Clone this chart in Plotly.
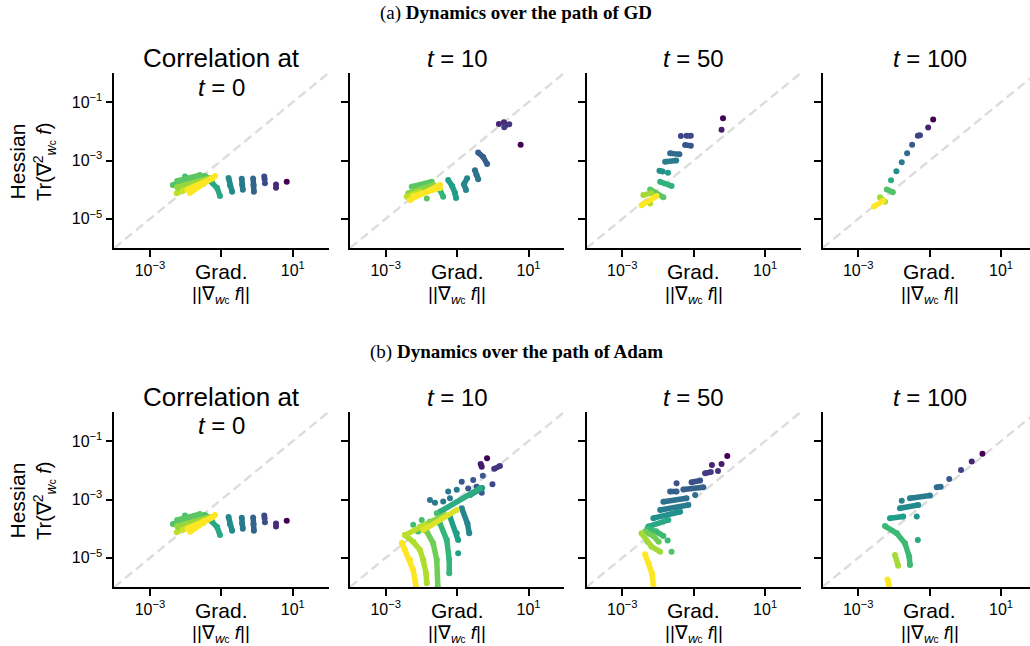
import plotly.graph_objects as go
from plotly.colors import sample_colorscale

# ---------------- data (log10 values) ----------------
# each entry: (colour value 0..1 on viridis, log10 grad list, log10 hessian list, kind)
# kind 'l' = dense streak of points, 'm' = separate points
t0_points = [
    (0.00, [0.83], [-3.73], 'm'),
    (0.12, [0.53, 0.53], [-3.82, -3.93], 'm'),
    (0.22, [0.20, 0.21], [-3.55, -3.64], 'm'),
    (0.24, [0.22], [-3.78], 'm'),
    (0.32, [-0.11, -0.10, -0.09], [-3.62, -3.85, -4.07], 'l'),
    (0.40, [-0.43, -0.42, -0.40], [-3.63, -3.82, -4.00], 'l'),
    (0.48, [-0.80, -0.76, -0.70], [-3.60, -3.85, -4.07], 'l'),
    (0.60, [-1.43, -1.26, -1.12, -1.04], [-3.57, -3.74, -3.94, -4.22], 'l'),
    (0.72, [-2.36, -1.46], [-3.84, -3.53], 'l'),
    (0.74, [-2.24, -1.60], [-3.70, -3.50], 'l'),
    (0.70, [-2.02], [-3.55], 'm'),
    (0.78, [-2.20, -1.50], [-4.00, -3.80], 'l'),
    (0.84, [-2.24, -1.32], [-3.91, -3.60], 'l'),
    (0.90, [-2.25], [-4.12], 'm'),
    (0.92, [-2.10, -1.45], [-4.05, -3.70], 'l'),
    (1.00, [-1.88, -1.18], [-4.11, -3.53], 'l'),
    (1.00, [-1.95, -1.25], [-4.00, -3.62], 'l'),
]

gd_t10_points = [
    (0.00, [0.78], [-2.46], 'm'),
    (0.10, [0.17], [-1.75], 'm'),
    (0.12, [0.31, 0.37], [-1.69, -1.78], 'l'),
    (0.16, [0.46], [-1.76], 'm'),
    (0.18, [0.32], [-1.86], 'm'),
    (0.30, [-0.41, -0.27, -0.16], [-2.73, -2.88, -3.12], 'l'),
    (0.38, [-0.50, -0.46, -0.41], [-3.33, -3.49, -3.64], 'l'),
    (0.46, [-0.72, -0.81, -0.75], [-3.61, -3.81, -4.01], 'l'),
    (0.56, [-1.25, -1.14, -1.06, -1.03], [-3.67, -3.87, -4.11, -4.29], 'l'),
    (0.66, [-1.48, -1.39], [-4.01, -4.24], 'l'),
    (0.74, [-2.27, -1.71], [-3.90, -3.73], 'l'),
    (0.74, [-1.85], [-4.30], 'm'),
    (0.82, [-2.37, -1.66], [-4.12, -3.84], 'l'),
    (0.90, [-2.41, -2.04], [-4.24, -4.07], 'l'),
    (1.00, [-2.32, -1.48], [-4.35, -3.84], 'l'),
    (1.00, [-2.22, -1.48], [-4.22, -3.94], 'l'),
]

gd_t50_points = [
    (0.00, [-0.18], [-1.55], 'm'),
    (0.08, [-0.22], [-1.95], 'm'),
    (0.20, [-1.36], [-2.16], 'm'),
    (0.22, [-1.20, -1.08], [-2.15, -2.15], 'l'),
    (0.27, [-1.24, -1.08], [-2.47, -2.49], 'l'),
    (0.35, [-1.66, -1.40], [-2.75, -2.79], 'l'),
    (0.42, [-1.80, -1.49], [-3.04, -3.00], 'l'),
    (0.50, [-1.96, -1.87], [-3.35, -3.38], 'l'),
    (0.55, [-1.72], [-3.42], 'm'),
    (0.64, [-1.94, -1.62], [-3.73, -3.87], 'l'),
    (0.74, [-2.22, -1.85], [-3.99, -4.26], 'l'),
    (0.86, [-2.41, -2.18], [-4.18, -4.12], 'l'),
    (0.88, [-2.22], [-4.47], 'm'),
    (1.00, [-2.46, -2.04], [-4.53, -4.22], 'l'),
]

gd_t100_points = [
    (0.00, [-0.90], [-1.59], 'm'),
    (0.10, [-1.04], [-1.87], 'm'),
    (0.20, [-1.33, -1.27], [-2.15, -2.13], 'l'),
    (0.28, [-1.49], [-2.46], 'm'),
    (0.34, [-1.63], [-2.75], 'm'),
    (0.42, [-1.78], [-3.06], 'm'),
    (0.50, [-1.93], [-3.37], 'm'),
    (0.62, [-2.08], [-3.68], 'm'),
    (0.72, [-2.20, -2.03], [-3.99, -4.09], 'l'),
    (0.86, [-2.39, -2.25], [-4.26, -4.41], 'l'),
    (1.00, [-2.56, -2.30], [-4.58, -4.38], 'l'),
]

adam_t10_points = [
    (0.00, [-0.16], [-1.59], 'm'),
    (0.07, [-0.34, -0.31], [-1.78, -1.88], 'l'),
    (0.15, [0.04, 0.20], [-1.95, -1.85], 'l'),
    (0.22, [-0.01], [-2.48], 'm'),
    (0.28, [-0.55, -0.28, -0.45, -0.31, -0.87, -0.69], [-2.33, -2.19, -2.56, -2.77, -2.39, -2.62], 'm'),
    (0.40, [-1.76, -1.62, -1.39, -1.20, -1.25, -1.01], [-3.02, -3.11, -3.07, -2.96, -2.73, -2.67], 'm'),
    (0.46, [-0.87, -0.71, -0.66], [-3.30, -3.82, -4.16], 'l'),
    (0.50, [-0.64, -0.30], [-2.85, -2.61], 'l'),
    (0.56, [-1.20, -1.01, -0.97], [-3.59, -4.16, -4.39], 'l'),
    (0.56, [-0.97], [-4.84], 'm'),
    (0.62, [-1.48, -0.36], [-3.42, -2.62], 'l'),
    (0.66, [-1.48, -1.29, -1.22, -1.22], [-3.82, -4.39, -5.07, -5.53], 'l'),
    (0.70, [-2.23, -1.99, -2.09, -1.76, -1.57], [-3.87, -3.70, -4.10, -3.76, -3.47], 'm'),
    (0.78, [-1.85, -1.67, -1.57, -1.54], [-4.10, -4.50, -5.07, -5.99], 'l'),
    (0.82, [-2.04, -1.34], [-3.94, -3.53], 'l'),
    (0.88, [-2.46, -2.23, -2.04, -1.95, -1.87, -1.85], [-4.22, -4.45, -4.73, -5.07, -5.53, -5.87], 'l'),
    (0.90, [-2.46, -1.90], [-4.22, -3.87], 'l'),
    (0.95, [-1.95, -1.01], [-4.05, -3.36], 'l'),
    (1.00, [-2.55, -2.46, -2.32, -2.23, -2.18, -2.15], [-4.48, -4.73, -5.07, -5.42, -5.76, -5.99], 'l'),
]

adam_t50_points = [
    (0.00, [-0.06], [-1.51], 'm'),
    (0.08, [-0.22], [-1.78], 'm'),
    (0.10, [-0.49], [-1.82], 'm'),
    (0.15, [-0.32], [-2.02], 'm'),
    (0.18, [-0.68, -0.52], [-2.10, -2.06], 'l'),
    (0.25, [-1.48], [-2.44], 'm'),
    (0.25, [-1.06, -0.82], [-2.41, -2.35], 'l'),
    (0.30, [-1.66, -1.48], [-2.73, -2.73], 'l'),
    (0.30, [-1.29, -0.73], [-2.66, -2.58], 'l'),
    (0.36, [-1.85, -1.20], [-3.08, -2.96], 'l'),
    (0.36, [-0.96], [-2.85], 'm'),
    (0.42, [-1.94, -1.15], [-3.36, -3.19], 'l'),
    (0.50, [-2.13, -1.38], [-3.64, -3.42], 'l'),
    (0.60, [-2.27, -1.71], [-3.93, -3.70], 'l'),
    (0.68, [-2.30, -2.05, -1.85], [-4.00, -4.10, -4.25], 'l'),
    (0.68, [-1.73], [-4.41], 'm'),
    (0.72, [-1.62], [-4.79], 'm'),
    (0.78, [-2.36, -2.13, -1.98], [-4.10, -4.25, -4.45], 'l'),
    (0.86, [-2.46, -2.30, -2.18, -1.94], [-4.16, -4.45, -4.62, -4.79], 'l'),
    (1.00, [-2.36, -2.26, -2.17, -2.13], [-4.88, -5.19, -5.53, -5.93], 'l'),
]

adam_t100_points = [
    (0.00, [0.48], [-1.43], 'm'),
    (0.10, [0.18], [-1.70], 'm'),
    (0.20, [-0.12], [-1.99], 'm'),
    (0.28, [-0.45], [-2.30], 'm'),
    (0.35, [-0.80, -0.69], [-2.58, -2.56], 'l'),
    (0.42, [-1.55, -0.99], [-2.96, -2.86], 'l'),
    (0.45, [-1.78], [-3.04], 'm'),
    (0.48, [-1.83, -1.32], [-3.30, -3.19], 'l'),
    (0.52, [-1.36], [-3.58], 'm'),
    (0.56, [-2.11, -1.74], [-3.64, -3.58], 'l'),
    (0.60, [-1.33], [-4.39], 'm'),
    (0.68, [-2.25, -1.92, -1.69, -1.57, -1.55], [-3.91, -4.16, -4.50, -4.96, -5.25], 'l'),
    (0.86, [-1.97, -1.88], [-4.90, -5.27], 'l'),
    (1.00, [-2.18, -2.14], [-5.74, -5.93], 'l'),
]

panel_titles = ["Correlation at", "<i>t</i> = 10", "<i>t</i> = 50", "<i>t</i> = 100"]
row_titles = ["(a) <b>Dynamics over the path of GD</b>",
              "(b) <b>Dynamics over the path of Adam</b>"]
x_tickvals = [1e-3, 1e1]
x_ticktext = ["10<sup>−3</sup>", "10<sup>1</sup>"]
x_minor_tickvals = [1e-1]
y_tickvals = [1e-5, 1e-3, 1e-1]
y_ticktext = ["10<sup>−5</sup>", "10<sup>−3</sup>", "10<sup>−1</sup>"]
diag_log = ([-4, 2], [-6, 0])

panels = [[t0_points, gd_t10_points, gd_t50_points, gd_t100_points],
          [t0_points, adam_t10_points, adam_t50_points, adam_t100_points]]

# ---------------- layout geometry ----------------
W, H = 1030, 646
LEFTS = [114.3, 350.0, 586.6, 822.5]
PW = 214.2
TOPS = [73.0, 412.0]
PH = 175.0
SANS = "Liberation Sans, Arial, Helvetica, sans-serif"
SERIF = "Liberation Serif, Times New Roman, serif"


def fx(px):
    return px / W


def fy(py):
    return 1 - py / H


def note(text, px, py, size, family=SANS, angle=0):
    return dict(text=text, x=fx(px), y=fy(py), xref="paper", yref="paper",
                showarrow=False, xanchor="center", yanchor="middle", textangle=angle,
                font=dict(family=family, size=size, color="black"))


fig = go.Figure()
layout = dict(width=W, height=H, margin=dict(l=0, r=0, t=0, b=0),
              paper_bgcolor="white", plot_bgcolor="white", showlegend=False)
annotations = []

for r in range(2):
    for c in range(4):
        idx = r * 4 + c + 1
        xa = "x" if idx == 1 else f"x{idx}"
        ya = "y" if idx == 1 else f"y{idx}"
        left = LEFTS[c]
        right = min(left + PW, W)
        xmax = -4 + 6 * (right - left) / PW
        top = TOPS[r]
        common = dict(type="log", showline=True, linecolor="black", linewidth=1.6,
                      ticks="outside", ticklen=7, tickwidth=1.6, tickcolor="black",
                      showgrid=False, zeroline=False,
                      tickfont=dict(family=SANS, size=16, color="black"))
        layout["xaxis" if idx == 1 else f"xaxis{idx}"] = dict(
            common, domain=[fx(left), fx(right)], range=[-4, xmax],
            tickvals=x_tickvals, ticktext=x_ticktext, anchor=ya,
            minor=dict(tickvals=x_minor_tickvals, ticks="outside", ticklen=7,
                       tickwidth=1.6, tickcolor="black", showgrid=False))
        layout["yaxis" if idx == 1 else f"yaxis{idx}"] = dict(
            common, domain=[fy(top + PH), fy(top)], range=[-6, 0],
            tickvals=y_tickvals, ticktext=y_ticktext,
            showticklabels=(c == 0), anchor=xa)

        # diagonal reference line
        fig.add_trace(go.Scatter(
            x=[10 ** v for v in diag_log[0]], y=[10 ** v for v in diag_log[1]],
            mode="lines", line=dict(color="#dcdcdc", width=2.4, dash="9px,5px"),
            xaxis=xa, yaxis=ya, hoverinfo="skip"))

        for (cv, lx, ly, kind) in sorted(panels[r][c], key=lambda e: e[0]):
            col = sample_colorscale("Viridis", [cv])[0]
            fig.add_trace(go.Scatter(
                x=[10 ** v for v in lx], y=[10 ** v for v in ly],
                mode="lines+markers" if kind == "l" else "markers",
                line=dict(color=col, width=5.5),
                marker=dict(color=col, size=6, line=dict(width=0)),
                xaxis=xa, yaxis=ya, hoverinfo="skip"))

        off = 339 * r
        cx = left + PW / 2
        annotations.append(note(panel_titles[c], cx, 58 + off, 26 if c == 0 else 24))
        if c == 0:
            annotations.append(note("<i>t</i> = 0", cx, 87 + off, 24))
        annotations.append(note("Grad.", cx, 271 + off, 21))
        annotations.append(note(
            "||∇<sub><i>w</i><span style='font-size:10px'>c</span></sub> <i>f</i>||",
            cx, 295 + off, 19))

    off = 339 * r
    annotations.append(note(row_titles[r], 516, 13 + off, 19, family=SERIF))
    annotations.append(note("Hessian", 16.5, 162 + off, 21, angle=-90))
    annotations.append(note(
        "Tr(∇<sup>2</sup><sub><i>w</i><span style='font-size:10px'>c</span></sub> <i>f</i>)",
        44, 162 + off, 20, angle=-90))

layout["annotations"] = annotations
fig.update_layout(**layout)
fig.write_html("out.html")
